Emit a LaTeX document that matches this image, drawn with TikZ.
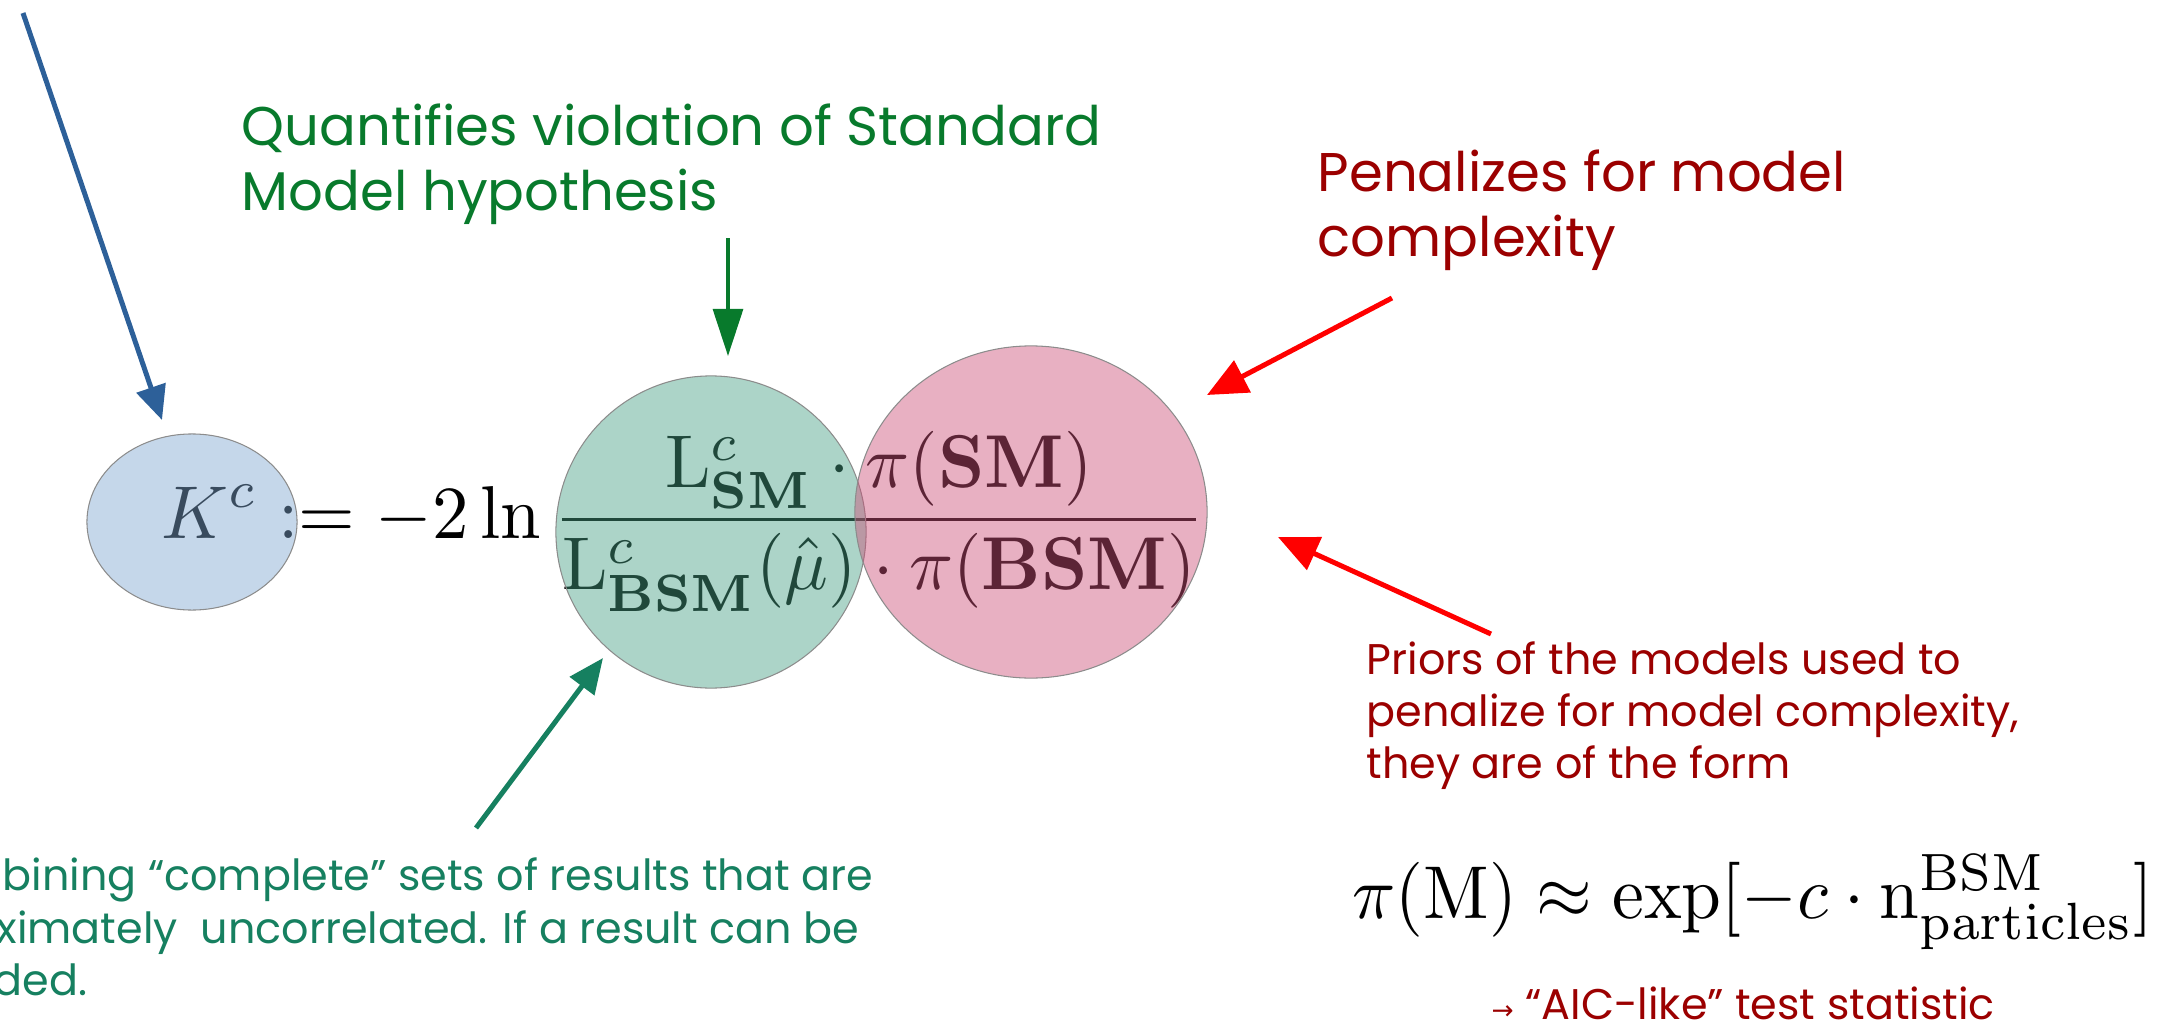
\documentclass[tikz,border=0pt]{standalone}
\usepackage[no-math]{fontspec}
\setmainfont{Poppins}
\newfontfamily\arrowfont{DejaVu Sans}
\usetikzlibrary{arrows.meta,shapes.geometric}

% overlay tints (drawn semi-transparent over the formula)
\definecolor{tintblue}{RGB}{127,167,209}
\definecolor{tintgreen}{RGB}{71,160,133}
\definecolor{tintpink}{RGB}{204,80,120}
\definecolor{rimgray}{RGB}{140,140,140}
% annotation colours
\definecolor{arrowblue}{RGB}{45,96,153}
\definecolor{titlegreen}{RGB}{8,122,44}
\definecolor{darkred}{RGB}{155,0,0}
\definecolor{brightred}{RGB}{255,0,0}
\definecolor{tealtext}{RGB}{22,128,96}

\tikzset{
  blob/.style={ellipse, draw=rimgray, line width=0.3pt, fill opacity=0.45, inner sep=0pt},
  bigtext/.style={anchor=base west, inner sep=0pt, font=\fontsize{15.5pt}{18pt}\selectfont},
  smalltext/.style={anchor=base west, inner sep=0pt, font=\fontsize{12.2pt}{14pt}\selectfont},
  mathtext/.style={anchor=base west, inner sep=0pt, scale=2.13, transform shape},
  bluearrow/.style={draw=arrowblue, line width=1.42pt, -{Triangle[length=9.7pt,width=8.5pt]}},
  greenarrow/.style={draw=titlegreen, line width=1.0pt, -{Triangle[length=13.4pt,width=8.5pt]}},
  redarrow/.style={draw=brightred, line width=1.42pt, -{Triangle[length=11.4pt,width=10pt]}},
  tealarrow/.style={draw=tealtext, line width=1.42pt, -{Triangle[length=10pt,width=8.5pt]}},
}

\begin{document}
\begin{tikzpicture}[x=0.01cm,y=-0.01cm]
\useasboundingbox (0,0) rectangle (2168,1027);

% main test statistic
\node[mathtext, xscale=0.972] (kdef) at (160,538)
  {$\displaystyle K^c := -2\ln\frac{\mathrm{L}^c_{\mathbf{SM}}\cdot\pi(\mathbf{SM})}{\mathrm{L}^c_{\mathbf{BSM}}(\hat{\mu})\cdot\pi(\mathbf{BSM})}$};

% highlighted parts of the formula
\node[blob, fill=tintblue, minimum width=2.10cm, minimum height=1.76cm] (kblob) at (192,522) {};
\node[blob, fill=tintgreen, minimum width=3.10cm, minimum height=3.12cm] (lblob) at (711,532) {};
\node[blob, fill=tintpink, minimum width=3.52cm, minimum height=3.32cm] (pblob) at (1031,512) {};

% annotations
\node[bigtext, text=titlegreen] (q1) at (241,145) {Quantifies violation of Standard};
\node[bigtext, text=titlegreen] (q2) at (241,210) {Model hypothesis};

\node[bigtext, text=darkred] (p1) at (1317,191) {Penalizes for model};
\node[bigtext, text=darkred] (p2) at (1317,256) {complexity};

\node[smalltext, text=darkred] (r1) at (1366,674) {Priors of the models used to};
\node[smalltext, text=darkred] (r2) at (1366,726) {penalize for model complexity,};
\node[smalltext, text=darkred] (r3) at (1366,778) {they are of the form};

\node[mathtext, xscale=0.955] (prior) at (1351,918)
  {$\pi(\mathrm{M})\approx\exp[-c\cdot\mathrm{n}^{\mathrm{BSM}}_{\mathrm{particles}}]$};

\node[smalltext, text=darkred] (aic) at (1491,1019)
  {{\arrowfont\fontsize{7.5pt}{8pt}\selectfont →} “AIC-like” test statistic};

\node[smalltext, text=tealtext] (c1) at (2,890) {bining “complete” sets of results that are};
\node[smalltext, text=tealtext] (c2) at (-4,943) {ximately\ \ uncorrelated. If a result can be};
\node[smalltext, text=tealtext] (c3) at (-7,995) {ded.};

% arrow end points
\coordinate (bstart) at (23,13);
\coordinate (btip) at (162,420);
\coordinate (gstart) at (728,238);
\coordinate (gtip) at (728,356);
\coordinate (r1start) at (1392,298);
\coordinate (r1tip) at (1207,395);
\coordinate (r2start) at (1491,634);
\coordinate (r2tip) at (1278,537);
\coordinate (tstart) at (476,828);
\coordinate (ttip) at (603,658);

\draw[bluearrow] (bstart) -- (btip);
\draw[greenarrow] (gstart) -- (gtip);
\draw[redarrow] (r1start) -- (r1tip);
\draw[redarrow] (r2start) -- (r2tip);
\draw[tealarrow] (tstart) -- (ttip);
\end{tikzpicture}
\end{document}
